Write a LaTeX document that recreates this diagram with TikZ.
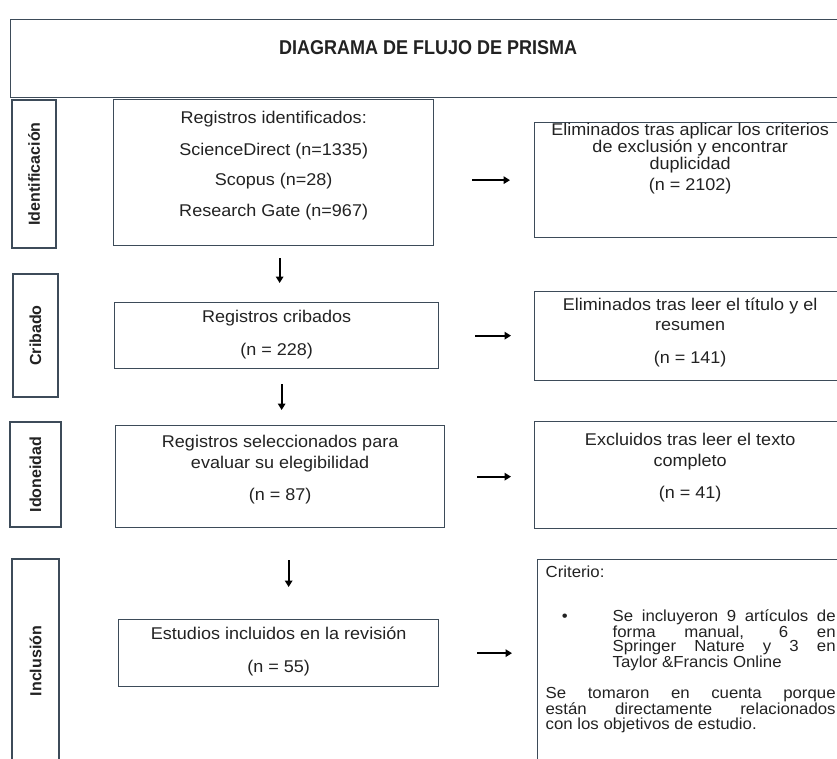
\documentclass[tikz,border=0pt]{standalone}
\usepackage{fontspec}
\setmainfont{Liberation Sans}
\newfontfamily\boxfont[FakeStretch=1.06]{Liberation Sans}
\newfontfamily\critfont[FakeStretch=1.05]{Liberation Sans}
\newfontfamily\headfont[FakeStretch=0.9]{Liberation Sans}
\usetikzlibrary{arrows.meta,positioning}
\definecolor{edgeslate}{HTML}{3D4B59}
\definecolor{inkgray}{HTML}{222222}

\begin{document}
\begin{tikzpicture}[x=1pt,y=-1pt,
flow/.style={-{Triangle[length=6.5pt,width=7.5pt]},line width=1.8pt,black}]

\tikzstyle{mainbox}=[rectangle, draw=edgeslate, line width=1.3pt, text=inkgray,
align=center, inner sep=0pt, anchor=north west,
font=\boxfont\fontsize{17}{20.5}\selectfont]

\tikzstyle{stage}=[rectangle, draw=edgeslate, line width=1.3pt, text=inkgray,
rotate=90, inner sep=0pt, font=\bfseries\fontsize{16}{18}\selectfont]

\useasboundingbox (0,0) rectangle (837,758);
\clip (0,0) rectangle (837,758);

%title
\node[mainbox, minimum width=835pt, minimum height=78pt, text depth=22pt,
font=\headfont\bfseries\fontsize{20}{24}\selectfont]
(head) at (10,19)
{DIAGRAMA DE FLUJO DE PRISMA};

%stages
\node[stage, minimum width=148pt, minimum height=44pt]
(s1) at (34,174)
{Identificación};

\node[stage, minimum width=123pt, minimum height=45pt]
(s2) at (35.5,335.5)
{Cribado};

\node[stage, minimum width=105pt, minimum height=51pt]
(s3) at (35.5,474.5)
{Idoneidad};

\node[stage, minimum width=204pt, minimum height=47pt]
(s4) at (35.5,661)
{Inclusión};

%records
\node[mainbox, minimum width=320pt, minimum height=146pt, text depth=18pt]
(m1) at (113,99)
{Registros identificados:\\[11pt] ScienceDirect (n=1335)\\[9.5pt] Scopus (n=28)\\[10.5pt] Research Gate (n=967)};

\node[mainbox, minimum width=324pt, minimum height=66pt, text depth=6pt]
(m2) at (114,302)
{Registros cribados\\[12.5pt] (n = 228)};

\node[mainbox, minimum width=329pt, minimum height=102pt, text depth=18pt]
(m3) at (115,425)
{Registros seleccionados para\\ evaluar su elegibilidad\\[11.5pt] (n = 87)};

\node[mainbox, minimum width=320pt, minimum height=67pt, text depth=7pt]
(m4) at (118,619)
{Estudios incluidos en la revisión\\[12.5pt] (n = 55)};

%removed
\node[mainbox, minimum width=311pt, minimum height=115pt, text depth=46.5pt]
(e1) at (534,122)
{Eliminados tras aplicar los criterios\\[-3.5pt] de exclusión y encontrar\\[-3.5pt] duplicidad\\[1pt] (n = 2102)};

\node[mainbox, minimum width=311pt, minimum height=89pt, text depth=11pt]
(e2) at (534,291)
{Eliminados tras leer el título y el\\ resumen\\[12.5pt] (n = 141)};

\node[mainbox, minimum width=311pt, minimum height=107pt, text depth=19pt]
(e3) at (534,421)
{Excluidos tras leer el texto\\ completo\\[11.5pt] (n = 41)};

\node[mainbox, align=justify, text width=290pt, inner xsep=8pt, inner ysep=6pt,
text depth=195pt, font=\critfont\fontsize{16}{14.8}\selectfont]
(e4) at (537,559)
{\parindent=0pt Criterio:\par\vspace{29.2pt}
{\leftskip=67pt\noindent\llap{\textbullet\hspace{45pt}}Se incluyeron 9 artículos de\linebreak
forma manual, 6 en\linebreak Springer Nature y 3 en\linebreak Taylor \&Francis Online\par}
\vspace{15.8pt}
Se tomaron en cuenta porque\linebreak están directamente relacionados\linebreak
con los objetivos de estudio.};

\path[flow] ([xshift=6pt]m1.south) edge[shorten <=12pt, shorten >=19pt] ([xshift=6pt]m1.south |- m2.north);
\path[flow] ([xshift=5pt]m2.south) edge[shorten <=15pt, shorten >=15pt] ([xshift=5pt]m2.south |- m3.north);
\path[flow] ([xshift=8.5pt]m3.south) edge[shorten <=32pt, shorten >=32pt] ([xshift=8.5pt]m3.south |- m4.north);

\path[flow] (m1.east |- e1.west) edge[shorten <=38pt, shorten >=24pt] (e1.west);
\path[flow] (m2.east) edge[shorten <=36pt, shorten >=23pt] (m2.east -| e2.west);
\path[flow] (m3.east) edge[shorten <=32pt, shorten >=23pt] (m3.east -| e3.west);
\path[flow] (m4.east) edge[shorten <=38pt, shorten >=25pt] (m4.east -| e4.west);

\end{tikzpicture}
\end{document}
